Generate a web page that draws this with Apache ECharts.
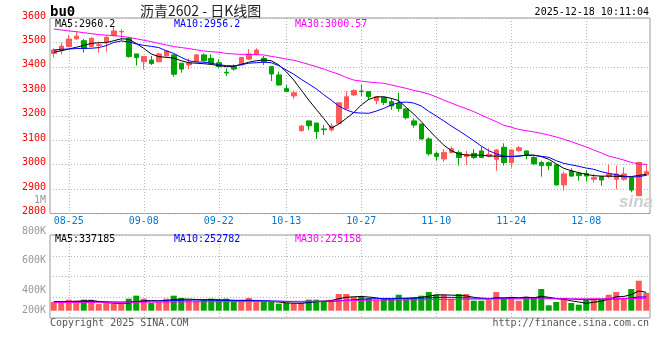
<!DOCTYPE html>
<html><head><meta charset="utf-8">
<script src="https://cdn.jsdelivr.net/npm/echarts@6/dist/echarts.min.js"></script>
<style>html,body{margin:0;padding:0;background:#fff}#c{width:660px;height:360px}</style>
</head><body><div id="c"></div>
<script>
// ---- data ----
const dates = ['08-21','08-22','08-25','08-26','08-27','08-28','08-29',
 '09-01','09-02','09-03','09-04','09-05','09-08','09-09','09-10','09-11','09-12','09-15','09-16','09-17','09-18','09-19','09-22','09-23','09-24','09-25','09-26','09-29','09-30',
 '10-09','10-10','10-13','10-14','10-15','10-16','10-17','10-20','10-21','10-22','10-23','10-24','10-27','10-28','10-29','10-30','10-31',
 '11-03','11-04','11-05','11-06','11-07','11-10','11-11','11-12','11-13','11-14','11-17','11-18','11-19','11-20','11-21','11-24','11-25','11-26','11-27','11-28',
 '12-01','12-02','12-03','12-04','12-05','12-08','12-09','12-10','12-11','12-12','12-15','12-16','12-17','12-18'];
const opens = [3455,3466,3483,3515,3507,3483,3488,3502,3528,3543,3517,3453,3421,3428,3421,3445,3449,3415,3408,3421,
 3449,3435,3417,3378,3401,3408,3432,3451,3435,3401,3367,3311,3281,3139,3179,3170,3146,3142,3169,3230,
 3285,3301,3299,3262,3275,3258,3251,3228,3179,3166,3105,3046,3023,3050,3050,3033,3046,3056,3035,3022,
 3071,3008,3057,3056,3029,3009,3008,2999,2917,2974,2964,2964,2940,2951,2951,2940,2940,2944,2873,2958];
const closes = [3469,3485,3514,3526,3475,3517,3491,3521,3547,3545,3442,3438,3442,3414,3453,3465,3370,3391,3417,3449,
 3425,3415,3401,3375,3391,3439,3453,3469,3421,3371,3326,3299,3294,3158,3159,3135,3143,3158,3253,3278,
 3303,3299,3278,3278,3254,3240,3230,3192,3162,3105,3044,3033,3050,3065,3029,3042,3029,3029,3042,3060,
 3008,3060,3069,3039,3003,2996,2996,2917,2962,2953,2955,2953,2948,2937,2962,2962,2962,2896,3009,2971];
const lows = [3439,3451,3480,3510,3458,3480,3458,3462,3524,3506,3438,3405,3390,3408,3419,3442,3360,3376,3391,3419,
 3421,3408,3394,3363,3385,3406,3428,3447,3408,3342,3322,3297,3269,3135,3142,3105,3121,3135,3165,3226,
 3281,3281,3264,3248,3244,3224,3217,3185,3151,3101,3037,3016,3012,3046,2996,2999,3023,3026,3030,2975,
 2996,2988,3053,3022,2999,2951,2978,2914,2893,2951,2934,2930,2926,2914,2944,2900,2934,2887,2872,2953];
const highs = [3476,3499,3530,3544,3514,3521,3503,3530,3567,3554,3521,3453,3442,3445,3458,3469,3451,3415,3435,3453,
 3455,3451,3431,3394,3410,3440,3473,3476,3445,3402,3380,3326,3303,3162,3179,3171,3162,3169,3254,3301,
 3308,3326,3300,3279,3278,3271,3294,3230,3189,3167,3112,3053,3064,3074,3057,3056,3063,3074,3067,3064,
 3087,3063,3076,3057,3035,3016,3012,3001,2971,2985,2971,2978,2962,2953,2999,2996,2989,2945,3012,3003];
const ma5 = [3460,3466,3473,3480,3488,3496,3499,3499,3507,3515,3513,3496,3476,3453,3442,3439,3436,3425,3417,3415,
 3413,3410,3405,3401,3402,3410,3419,3425,3428,3425,3408,3380,3346,3305,3264,3226,3189,3149,3166,3189,
 3213,3244,3267,3277,3278,3271,3262,3234,3207,3176,3142,3110,3080,3057,3044,3039,3039,3039,3035,3035,
 3033,3033,3035,3039,3039,3033,3022,3003,2985,2975,2967,2960,2955,2953,2953,2952,2951,2951,2956,2960.2];
const ma10 = [3469,3472,3473,3475,3476,3476,3479,3487,3500,3506,3502,3494,3488,3484,3479,3466,3455,3439,3425,3420,
 3419,3415,3409,3405,3404,3409,3415,3417,3419,3417,3405,3387,3370,3349,3330,3310,3286,3264,3240,3224,
 3213,3211,3210,3219,3230,3244,3254,3256,3252,3240,3218,3199,3179,3158,3139,3119,3098,3076,3057,3044,
 3035,3033,3035,3038,3038,3034,3030,3016,3005,2999,2993,2986,2981,2971,2964,2959,2953,2948,2951,2956.2];
const ma30 = [3555,3551,3547,3544,3540,3536,3532,3530,3528,3525,3521,3515,3509,3503,3496,3490,3483,3479,3475,3470,
 3465,3462,3460,3455,3453,3451,3451,3450,3449,3443,3438,3432,3427,3419,3410,3401,3391,3380,3370,3357,
 3346,3342,3338,3335,3333,3326,3319,3312,3304,3297,3289,3277,3264,3252,3240,3229,3217,3203,3189,3176,
 3161,3153,3144,3139,3134,3128,3121,3113,3104,3094,3083,3072,3060,3048,3035,3027,3019,3009,3003,3000.57];
// volumes, in thousands
const volumes = [159,159,202,183,202,202,122,141,122,122,220,275,220,141,159,220,275,232,202,183,
 202,220,202,220,171,202,232,171,171,171,128,141,141,141,202,202,183,202,306,306,
 251,263,232,202,214,214,293,220,232,275,342,293,293,220,306,306,183,183,202,342,
 244,251,183,251,251,397,98,159,220,141,110,202,220,202,293,342,232,397,550,324];
const volMa5 = [160,162,168,172,178,185,168,150,136,134,142,165,182,185,182,185,205,210,212,205,
 200,205,200,195,190,185,190,185,175,168,158,145,138,135,150,165,175,185,220,245,
 255,260,250,235,215,212,225,225,235,245,265,290,290,285,280,270,245,225,215,240,
 230,245,235,250,235,265,245,220,210,180,160,135,155,175,210,255,260,295,360,337.185];
const volMa10 = [165,165,165,168,170,172,170,165,160,158,160,168,172,175,178,180,185,190,195,195,
 195,192,190,190,188,188,190,188,185,180,175,170,165,160,160,165,168,170,180,190,
 200,210,215,220,225,225,225,228,230,230,235,240,245,245,240,235,230,230,225,225,
 225,230,230,232,235,235,230,225,220,215,205,200,205,210,215,215,220,235,250,252.782];
const volMa30 = [150,150,151,151,152,152,152,153,153,153,154,154,155,156,157,158,159,160,161,162,
 163,164,165,166,167,168,169,170,171,172,172,172,172,172,173,174,176,178,180,183,
 186,189,191,193,195,196,197,198,199,200,202,204,206,208,209,210,211,212,212,213,
 214,215,215,216,216,217,217,217,218,218,218,218,218,219,219,220,221,222,224,225.158];
const tickDates = ['08-25','09-08','09-22','10-13','10-27','11-10','11-24','12-08'];
const volTickLabels = ['', '200K', '400K', '600K', '800K'];

// ---- chart ----
const MONO = 'DejaVu Sans Mono';
const RED = '#ff5a5a', GREEN = '#00a300';
const GRIDC = '#b4b4b4';
const isTick = (i, v) => tickDates.indexOf(v) >= 0;
const candleData = dates.map((d, i) => [opens[i], closes[i], lows[i], highs[i]]);
const volData = volumes.map((v, i) => ({value: v, itemStyle: {color: closes[i] >= opens[i] ? RED : GREEN}}));
const txt = (text, pos, color, size, extra) => Object.assign({
  text, padding: 0, itemGap: 0,
  textStyle: Object.assign({color, fontSize: size, fontFamily: MONO, fontWeight: 'normal', lineHeight: size + 2}, extra || {})
}, pos);

const chart = echarts.init(document.getElementById('c'), null, {renderer: 'canvas'});
chart.setOption({
  animation: false,
  backgroundColor: '#fff',
  textStyle: {fontFamily: MONO},
  title: [
    txt('bu0', {left: 50, top: 4}, '#000', 14, {fontWeight: 'bold'}),
    txt('沥青2602 - 日K线图', {left: 140, top: 3}, '#222', 14, {fontFamily: 'Noto Sans CJK SC'}),
    txt('2025-12-18 10:11:04', {right: 11, top: 6}, '#000', 10),
    txt('MA5:2960.2', {left: 55, top: 18}, '#000', 10),
    txt('MA10:2956.2', {left: 174, top: 18}, '#0000ff', 10),
    txt('MA30:3000.57', {left: 295, top: 18}, '#ff00ff', 10),
    txt('1M', {right: 614, top: 194}, '#999', 10),
    txt('MA5:337185', {left: 55, top: 233}, '#000', 10),
    txt('MA10:252782', {left: 174, top: 233}, '#0000ff', 10),
    txt('MA30:225158', {left: 295, top: 233}, '#ff00ff', 10),
    txt('Copyright 2025 SINA.COM', {left: 50, top: 317}, '#555', 10),
    txt('http://finance.sina.com.cn', {right: 11, top: 317}, '#555', 10),
    txt('sina', {left: 619, top: 193}, '#cfcfcf', 17, {fontWeight: 'bold', fontStyle: 'italic', fontFamily: 'Liberation Sans'})
  ],
  grid: [
    {left: 50, top: 18, width: 600, height: 195.5, show: true, borderColor: '#999', borderWidth: 1},
    {left: 50, top: 235, width: 600, height: 83, show: true, borderColor: '#999', borderWidth: 1}
  ],
  xAxis: [
    {type: 'category', gridIndex: 0, data: dates, boundaryGap: true,
     axisLine: {show: false}, axisTick: {show: false},
     axisLabel: {interval: isTick, color: '#0078d4', fontSize: 10, fontFamily: MONO, margin: 3},
     splitLine: {show: true, interval: isTick, alignWithLabel: true, lineStyle: {color: GRIDC, type: [1, 2], width: 1}}},
    {type: 'category', gridIndex: 1, data: dates, boundaryGap: true,
     axisLine: {show: false}, axisTick: {show: false}, axisLabel: {show: false},
     splitLine: {show: true, interval: isTick, alignWithLabel: true, lineStyle: {color: GRIDC, type: [1, 2], width: 1}}}
  ],
  yAxis: [
    {type: 'value', gridIndex: 0, min: 2800, max: 3600, interval: 100, scale: true,
     axisLine: {show: false}, axisTick: {show: false},
     axisLabel: {margin: 4, formatter: v => '{p|' + v + '}',
       rich: {p: {color: '#ff0000', fontSize: 10, fontFamily: MONO, padding: [0, 0, 4, 0]}}},
     splitLine: {show: true, lineStyle: {color: GRIDC, type: [1, 2], width: 1}}},
    {type: 'value', gridIndex: 1, min: -134, max: 1387, show: false, splitLine: {show: false}},
    {type: 'value', gridIndex: 1, min: 0, max: 4, interval: 1, position: 'left',
     axisLine: {show: false}, axisTick: {show: false},
     axisLabel: {margin: 4, showMaxLabel: true,
       formatter: v => v === 0 ? '' : '{t' + v + '|' + volTickLabels[v] + '}',
       rich: {
         t1: {color: '#999', fontSize: 10, fontFamily: MONO, padding: [26, 0, 0, 0]},
         t2: {color: '#999', fontSize: 10, fontFamily: MONO, padding: [27, 0, 0, 0]},
         t3: {color: '#999', fontSize: 10, fontFamily: MONO, padding: [10, 0, 0, 0]},
         t4: {color: '#999', fontSize: 10, fontFamily: MONO, padding: [0, 0, 8, 0]}
       }},
     splitLine: {show: true, lineStyle: {color: GRIDC, type: [1, 2], width: 1}}}
  ],
  series: [
    {type: 'candlestick', xAxisIndex: 0, yAxisIndex: 0, data: candleData, barWidth: 5,
     itemStyle: {color: RED, color0: GREEN, borderColor: RED, borderColor0: GREEN, borderWidth: 1}},
    {type: 'line', xAxisIndex: 0, yAxisIndex: 0, data: ma5, showSymbol: false, symbol: 'none', lineStyle: {color: '#000', width: 1}, z: 5},
    {type: 'line', xAxisIndex: 0, yAxisIndex: 0, data: ma10, showSymbol: false, symbol: 'none', lineStyle: {color: '#0000ff', width: 1}, z: 5},
    {type: 'line', xAxisIndex: 0, yAxisIndex: 0, data: ma30, showSymbol: false, symbol: 'none', lineStyle: {color: '#ff00ff', width: 1}, z: 5},
    {type: 'bar', xAxisIndex: 1, yAxisIndex: 1, data: volData, barWidth: 6},
    {type: 'line', xAxisIndex: 1, yAxisIndex: 1, data: volMa5, showSymbol: false, symbol: 'none', lineStyle: {color: '#000', width: 1}, z: 5},
    {type: 'line', xAxisIndex: 1, yAxisIndex: 1, data: volMa10, showSymbol: false, symbol: 'none', lineStyle: {color: '#0000ff', width: 1}, z: 5},
    {type: 'line', xAxisIndex: 1, yAxisIndex: 1, data: volMa30, showSymbol: false, symbol: 'none', lineStyle: {color: '#ff00ff', width: 1}, z: 5}
  ]
});
</script></body></html>
